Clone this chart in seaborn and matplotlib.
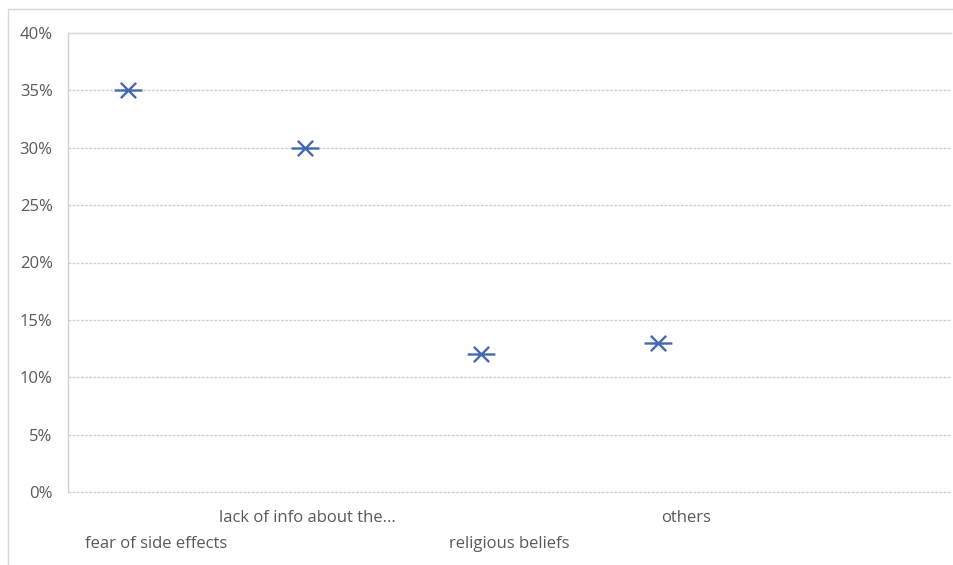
import matplotlib
matplotlib.use("Agg")
import matplotlib.pyplot as plt
import matplotlib.transforms as mtransforms
import seaborn as sns
import pandas as pd
import numpy as np
from matplotlib.path import Path
from matplotlib.lines import Line2D
from matplotlib.ticker import PercentFormatter

categories = ["fear of side effects", "lack of info about the...", "religious beliefs", "others", ""]
values = [0.35, 0.30, 0.12, 0.13, None]
y_ticks = [0.0, 0.05, 0.10, 0.15, 0.20, 0.25, 0.30, 0.35, 0.40]

sns.set_theme(style="white")
plt.rcParams['font.family'] = ['Liberation Sans Narrow', 'Open Sans', 'DejaVu Sans']

df = pd.DataFrame({"pos": np.arange(len(categories)), "cat": categories, "val": values}).dropna()

fig = plt.figure(figsize=(9.54, 5.65), dpi=100)
W, H = 954, 565
ax = fig.add_axes([68 / W, 1 - 492 / H, (951 - 68) / W, (492 - 33) / H])

star = Path(
    [(-1, 0), (1, 0), (-0.55, -0.55), (0.55, 0.55), (-0.55, 0.55), (0.55, -0.55)],
    [Path.MOVETO, Path.LINETO, Path.MOVETO, Path.LINETO, Path.MOVETO, Path.LINETO],
)
sns.scatterplot(data=df.assign(x=df["pos"] - 0.16), x="x", y="val", ax=ax,
                marker=star, s=400, color="#4468B0", edgecolor="#4468B0",
                linewidth=1.7, zorder=3, legend=False)

ax.set_xlim(-0.5, len(categories) - 0.5)
ax.set_ylim(0, 0.40)
ax.set_yticks(y_ticks)
ax.yaxis.set_major_formatter(PercentFormatter(1.0, decimals=0))
ax.set_xticks(np.arange(len(categories)))
ax.set_xticklabels(categories)
ax.set_xlabel("")
ax.set_ylabel("")

ax.tick_params(axis="y", length=0, pad=11, labelsize=12, labelcolor="#595959")
ax.tick_params(axis="x", length=0, labelsize=12, labelcolor="#595959")
for i, t in enumerate(ax.xaxis.get_major_ticks()):
    t.set_pad(31.5 if i % 2 == 0 else 13)
lbl = ax.get_xticklabels()[1]
lbl.set_transform(lbl.get_transform() + mtransforms.ScaledTranslation(-26 / 100, 0, fig.dpi_scale_trans))

ax.yaxis.grid(True, color="#cfcfcf", linestyle=(0, (2.0, 1.0)), linewidth=1.0)
ax.xaxis.grid(False)
ax.set_axisbelow(True)
for gl in ax.get_ygridlines():
    gl.set_clip_on(False)
for s in ["right", "bottom"]:
    ax.spines[s].set_visible(False)
ax.spines["top"].set_color("#d9d9d9")
ax.spines["top"].set_linewidth(1.0)
ax.spines["left"].set_color("#d0d0d0")
ax.spines["left"].set_linestyle((0, (2.0, 1.0)))
ax.spines["left"].set_linewidth(1.0)

# outer chart border
fig.add_artist(Line2D([8 / W, 8 / W], [0, 1 - 9 / H], transform=fig.transFigure, color="#d9d9d9", lw=1))
fig.add_artist(Line2D([8 / W, 1], [1 - 9 / H, 1 - 9 / H], transform=fig.transFigure, color="#d9d9d9", lw=1))

fig.savefig("out.png", dpi=100)
